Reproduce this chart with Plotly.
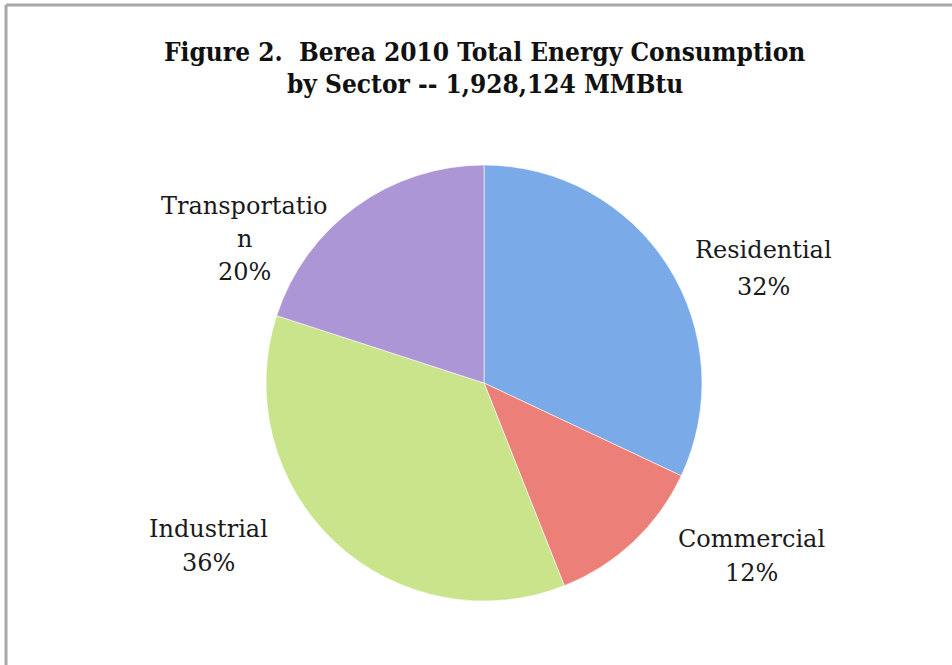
import plotly.graph_objects as go

# ---- data ----
sectors = ["Residential", "Commercial", "Industrial", "Transportation"]
shares = [32, 12, 36, 20]
label_lines = [["Residential", "32%"], ["Commercial", "12%"], ["Industrial", "36%"],
               ["Transportatio", "n", "20%"]]
title_lines = ["Figure 2.  Berea 2010 Total Energy Consumption", "by Sector -- 1,928,124 MMBtu"]

# ---- styling / layout ----
W, H = 952, 665
colors = ["#7aabe8", "#ec7f77", "#c9e48a", "#ad96d5"]
cx, cy, r = 484, 383, 218
label_pos = [(763, 250), (751, 539), (208, 529), (245, 206)]  # px: first-line centre
line_gap = [37, 34, 34, 33]

fig = go.Figure(go.Pie(
    labels=sectors, values=shares, sort=False, direction="clockwise", rotation=0,
    marker=dict(colors=colors, line=dict(color="rgba(255,255,255,0.6)", width=1)),
    textinfo="none", hoverinfo="label+percent", showlegend=False,
    domain=dict(x=[(cx - r) / W, (cx + r) / W], y=[(H - cy - r) / H, (H - cy + r) / H]),
))

ann = []
for (lx, ly), lines, gap in zip(label_pos, label_lines, line_gap):
    for i, t in enumerate(lines):
        ann.append(dict(text=t, x=lx / W, y=1 - (ly + i * gap) / H, xref="paper", yref="paper",
                        xanchor="center", yanchor="middle", showarrow=False,
                        font=dict(family="DejaVu Serif", size=24, color="#1a1a1a")))
for i, t in enumerate(title_lines):
    ann.append(dict(text="<b>" + t + "</b>", x=485 / W, y=1 - (52 + i * 32) / H, xref="paper", yref="paper",
                    xanchor="center", yanchor="middle", showarrow=False,
                    font=dict(family="DejaVu Serif Condensed", size=26, color="#111111")))

fig.update_layout(
    width=W, height=H, margin=dict(l=0, r=0, t=0, b=0),
    paper_bgcolor="white", plot_bgcolor="white",
    annotations=ann,
    shapes=[
        dict(type="line", xref="paper", yref="paper", x0=6 / W, x1=1.01, y0=1 - 5 / H, y1=1 - 5 / H,
             line=dict(color="#a8a8a8", width=3)),
        dict(type="line", xref="paper", yref="paper", x0=6 / W, x1=6 / W, y0=1 - 5 / H, y1=-0.01,
             line=dict(color="#a8a8a8", width=3)),
    ],
)

fig.write_html("out.html", config={"displayModeBar": False},
               post_script="document.body.style.margin='0';")
